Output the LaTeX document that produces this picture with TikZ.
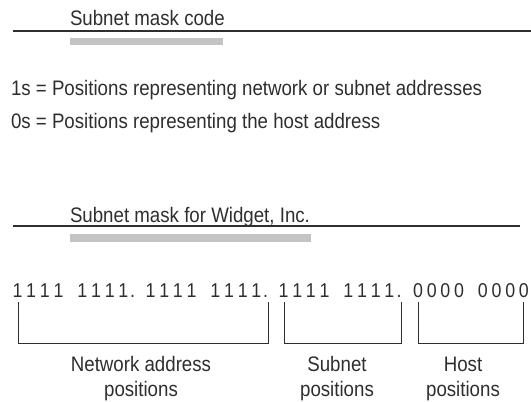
\documentclass[tikz,border=0pt]{standalone}
\usepackage{fontspec}
\setmainfont{Liberation Sans}[FakeStretch=0.89]
\definecolor{ink}{HTML}{2E2E2E}
\definecolor{bar}{HTML}{C4C4C4}
\tikzset{
  txt/.style={inner sep=0pt, outer sep=0pt, text=ink, font=\fontsize{21}{25}\selectfont},
  digit/.style={inner sep=0pt, outer sep=0pt, text=ink, font=\fontsize{20}{24}\selectfont, anchor=base},
  rule/.style={draw=ink, line width=1.3pt},
  graybar/.style={fill=bar, draw=none},
  brack/.style={draw=ink, line width=1pt},
}
\begin{document}
\begin{tikzpicture}[x=1pt,y=-1pt]
\useasboundingbox (0,0) rectangle (531,402);
% section 1
\node[txt, anchor=base west] (t1) at (70,25) {Subnet mask code};
\draw[rule] (13,31) -- (531,31);
\fill[graybar] (70,37.5) rectangle (223,45);
\node[txt, anchor=base west] (d1) at (11,95) {1s = Positions representing network or subnet addresses};
\node[txt, anchor=base west] (d2) at (11,128) {0s = Positions representing the host address};
% section 2
\node[txt, anchor=base west] (t2) at (70,222.5) {Subnet mask for Widget, Inc.};
\draw[rule] (13,226) -- (520,226);
\fill[graybar] (70,234) rectangle (311,242);
% bits: byte b, group g, digit k
\foreach \b/\d/\sh in {0/1/-1.5, 1/1/-1.5, 2/1/-1.5, 3/0/0}{
  \foreach \g in {0,1}{
    \foreach \k in {0,1,2,3}{
      \node[digit] (b\b-\g-\k) at ({19+133*\b+64.8*\g+13.7*\k+\sh},297) {\d};
    }
  }
}
\node[digit] (dot1) at (132.5,297) {.};
\node[digit] (dot2) at (265.5,297) {.};
\node[digit] (dot3) at (399,297) {.};
% brackets
\draw[brack] (18,302) -- (18,343) -- (268,343) -- (268,302);
\draw[brack] (284,302) -- (284,343) -- (401,343) -- (401,302);
\draw[brack] (418,302) -- (418,343) -- (523,343) -- (523,302);
% labels
\node[txt, anchor=base] (n1) at (141,371.5) {Network address};
\node[txt, anchor=base] (n2) at (141,396.5) {positions};
\node[txt, anchor=base] (s1) at (337,371.5) {Subnet};
\node[txt, anchor=base] (s2) at (337,396.5) {positions};
\node[txt, anchor=base] (h1) at (463,371.5) {Host};
\node[txt, anchor=base] (h2) at (463,396.5) {positions};
\end{tikzpicture}
\end{document}
